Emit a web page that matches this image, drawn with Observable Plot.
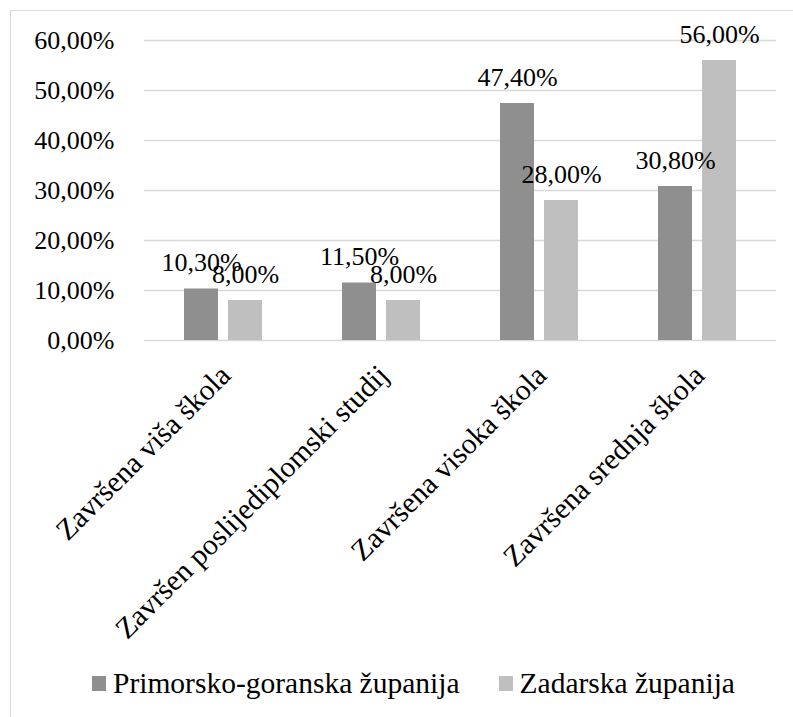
<!DOCTYPE html>
<html>
<head>
<meta charset="utf-8">
<script src="https://cdn.jsdelivr.net/npm/d3@7"></script>
<script src="https://cdn.jsdelivr.net/npm/@observablehq/plot@0.6"></script>
<style>
  html, body { margin: 0; padding: 0; background: #fff; font-family: 'Liberation Serif', serif; }
  #wrap { position: relative; width: 793px; height: 717px; overflow: hidden; font-family: 'Liberation Serif', serif; }
  #border { position: absolute; left: 10px; top: 10px; width: 820px; height: 740px; border: 1.5px solid #d9d9d9; box-sizing: border-box; }
  #chart { position: absolute; left: 0; top: 0; }
  #legend { position: absolute; left: 92px; top: 666px; display: flex; align-items: center; font-size: 29.5px; line-height: 34px; color: #000; white-space: nowrap; font-family: 'Liberation Serif', serif; }
  .sw { display: inline-block; width: 14px; height: 15px; margin-right: 7px; }
  .item { display: flex; align-items: center; }
</style>
</head>
<body>
<div id="wrap">
  <div id="border"></div>
  <div id="chart"></div>
  <div id="legend"></div>
</div>
<script>
const categories = ["Završena viša škola", "Završen poslijediplomski studij", "Završena visoka škola", "Završena srednja škola"];
const series = ["Primorsko-goranska županija", "Zadarska županija"];
const primorsko = [10.3, 11.5, 47.4, 30.8];
const zadarska = [8.0, 8.0, 28.0, 56.0];
const yTicks = [0, 10, 20, 30, 40, 50, 60];
const colors = ["#8f8f8f", "#bfbfbf"];

const data = categories.flatMap((c, i) => [
  {category: c, series: series[0], value: primorsko[i]},
  {category: c, series: series[1], value: zadarska[i]}
]);

const fmt = v => v.toFixed(2).replace(".", ",") + "%";
const FONT = "Liberation Serif";

const chart = Plot.plot({
  width: 793,
  height: 640,
  marginLeft: 143,
  marginRight: 17,
  marginTop: 40,
  marginBottom: 300,
  style: {fontFamily: FONT, fontSize: "26px", color: "#000", background: "transparent", overflow: "visible"},
  fx: {domain: categories, padding: 0, label: null},
  x: {domain: series, paddingInner: 0.222, paddingOuter: 0.867, axis: null},
  y: {domain: [0, 60], label: null},
  color: {domain: series, range: colors},
  marks: [
    Plot.ruleY(yTicks, {stroke: "#d9d9d9", strokeWidth: 1.5}),
    Plot.axisY(yTicks, {tickFormat: fmt, tickSize: 0, tickPadding: 30, label: null, fontSize: 26, fontFamily: FONT}),
    Plot.axisFx({anchor: "bottom", tickRotate: -45, tickSize: 0, tickPadding: 30, dx: 2, label: null, fontSize: 29.5, fontFamily: FONT}),
    Plot.barY(data, {fx: "category", x: "series", y: "value", fill: "series"}),
    Plot.text(data, {fx: "category", x: "series", y: "value", text: d => fmt(d.value), dy: -18, lineAnchor: "bottom", fill: "#000", fontSize: 26, fontFamily: FONT})
  ]
});
document.getElementById("chart").appendChild(chart);

const legend = document.getElementById("legend");
series.forEach((s, i) => {
  const item = document.createElement("span");
  item.className = "item";
  if (i > 0) item.style.marginLeft = "39px";
  const sw = document.createElement("span");
  sw.className = "sw";
  sw.style.background = colors[i];
  const t = document.createElement("span");
  t.textContent = s;
  item.appendChild(sw);
  item.appendChild(t);
  legend.appendChild(item);
});
</script>
</body>
</html>
